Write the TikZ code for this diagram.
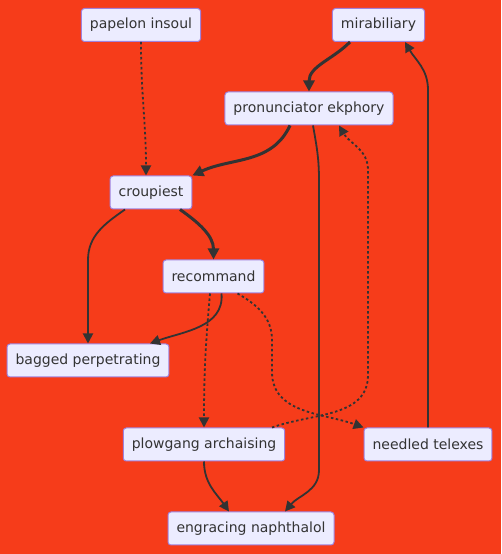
\documentclass[tikz,border=0pt]{standalone}
\usepackage{fontspec}
\setmainfont{DejaVu Sans}
\usepackage{tikz}
\usepackage{xcolor}
\usetikzlibrary{arrows.meta}
\definecolor{Mer-Bg}{RGB}{246, 60, 26}
\definecolor{Mer-Fill}{RGB}{236, 236, 255}
\definecolor{Mer-Line}{RGB}{160, 130, 220}
\definecolor{Mer-Ink}{RGB}{51, 51, 51}

\begin{document}
\begin{tikzpicture}[x=1pt, y=1pt, font=\fontsize{14}{16}\selectfont,
    box/.style={draw=Mer-Line, fill=Mer-Fill, text=Mer-Ink, rounded corners=3pt, minimum height=33pt, inner xsep=8.5pt, line width=1pt},
    flow/.style={draw=Mer-Ink, line width=1.8pt, -{Triangle[length=10pt, width=10pt]}},
    flowthick/.style={flow, line width=3pt, -{Triangle[length=11pt, width=11pt]}},
    flowdot/.style={flow, dash pattern=on 2.5pt off 2.5pt}]

    \useasboundingbox (0,0) rectangle (501,554);
    \fill[Mer-Bg] (0,0) rectangle (501,554);

    \node[box] (papelon) at (141,529) {papelon insoul};
    \node[box] (mirabiliary) at (378.5,529) {mirabiliary};
    \node[box] (pronunciator) at (309,445.5) {pronunciator ekphory};
    \node[box] (croupiest) at (151,361.5) {croupiest};
    \node[box] (recommand) at (213.5,277.5) {recommand};
    \node[box] (bagged) at (88,193.5) {bagged perpetrating};
    \node[box] (plowgang) at (204,109.5) {plowgang archaising};
    \node[box] (needled) at (428,109.5) {needled telexes};
    \node[box] (engracing) at (251,25.5) {engracing naphthalol};

    \draw[flowdot] (papelon.south) to[out=-90,in=90] ([xshift=-5pt]croupiest.north);
    \draw[flowthick] ([xshift=-28.5pt]mirabiliary.south) to[out=-135,in=90] (pronunciator.north);
    \draw[flowthick] ([xshift=-19pt]pronunciator.south) to[out=-115,in=25] (croupiest.north east);
    \draw[flow] ([xshift=4pt]pronunciator.south) to[out=-80,in=90] (319,374) -- (319,84) to[out=-90,in=50] ([xshift=34pt]engracing.north);
    \draw[flow] (needled.north) -- (428,464) to[out=90,in=-60] ([xshift=26.5pt]mirabiliary.south);
    \draw[flowdot] ([xshift=68pt]plowgang.north) to[out=20,in=-90] (368,179) -- (368,384) to[out=90,in=-60] ([xshift=30pt]pronunciator.south);
    \draw[flowthick] ([xshift=29pt]croupiest.south) to[out=-35,in=90] (recommand.north);
    \draw[flow] ([xshift=-26pt]croupiest.south) to[out=-145,in=90] (88,294) -- (bagged.north);
    \draw[flow] ([xshift=8pt]recommand.south) to[out=-85,in=20] ([xshift=62pt]bagged.north);
    \draw[flowdot] ([xshift=-3.5pt]recommand.south) to[out=-95,in=90] (plowgang.north);
    \draw[flowdot] ([xshift=24pt]recommand.south) to[out=-30,in=90] (272,214) -- (272,182) to[out=-90,in=160] (needled.north west);
    \draw[flow] (plowgang.south) to[out=-90,in=125] ([xshift=-22pt]engracing.north);

\end{tikzpicture}
\end{document}
